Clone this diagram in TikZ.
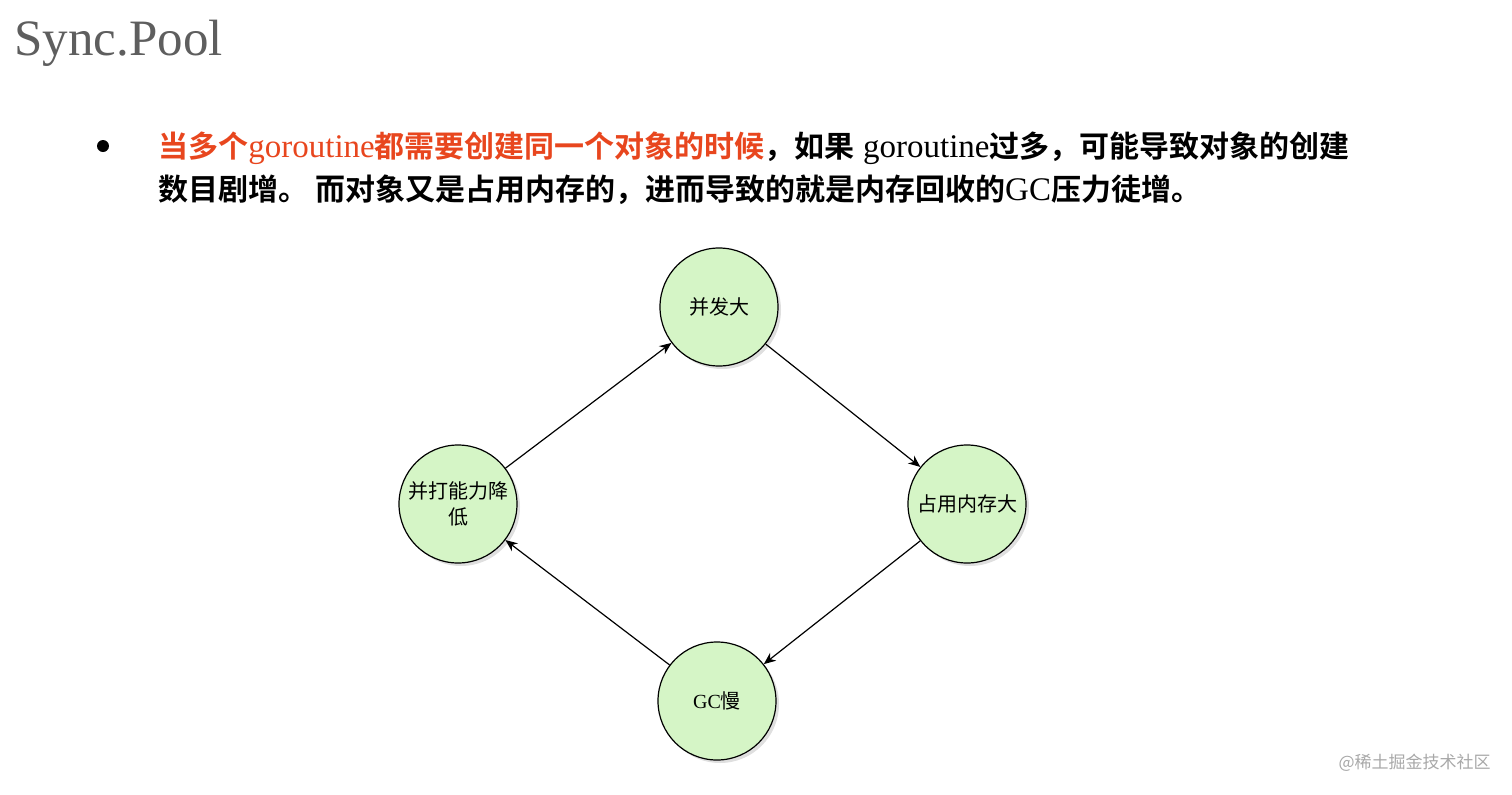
\documentclass[tikz,border=0pt]{standalone}
\usepackage{fontspec}
\setmainfont{Liberation Serif}
\newfontfamily\zhfont{Noto Sans CJK SC}[BoldFont={* Bold}]
\usetikzlibrary{arrows.meta,shadows}
\definecolor{warnred}{HTML}{E8461E}
\definecolor{titlegray}{HTML}{5E5E5E}
\definecolor{nodegreen}{HTML}{D5F5C6}
\definecolor{markgray}{HTML}{A8A8A8}
\newcommand\zh[1]{{\zhfont\bfseries\fontsize{15}{20}\selectfont #1}}
\tikzset{
  state/.style={circle, draw, line width=0.6pt, fill=nodegreen, minimum size=59pt,
    inner sep=0pt, align=center, font=\zhfont\fontsize{10}{13}\selectfont,
    drop shadow={opacity=0.25, shadow xshift=1.5pt, shadow yshift=-1.5pt}},
  textline/.style={anchor=base west, inner sep=0pt, font=\fontsize{16.5}{20}\selectfont}
}
\begin{document}
\begin{tikzpicture}[x=0.5pt,y=-0.5pt,>={Stealth[length=6pt,width=5pt]}]
  \useasboundingbox (0,0) rectangle (1512,794);
  \node[anchor=base west, inner sep=0pt, text=titlegray, font=\fontsize{25.5}{30}\selectfont]
    (title) at (14,55) {Sync.Pool};
  \node[circle, fill, minimum size=6pt, inner sep=0pt] (dot) at (103,146) {};
  \node[textline] (line1) at (158,157)
    {\textcolor{warnred}{\zh{当多个}goroutine\zh{都需要创建同一个对象的时候}}\zh{，如果} goroutine\zh{过多，可能导致对象的创建}};
  \node[textline] (line2) at (158,200)
    {\zh{数目剧增。 而对象又是占用内存的，进而导致的就是内存回收的}GC\zh{压力徒增。}};
  % the cycle
  \node[state] (conc) at (719,307) {并发大};
  \node[state] (mem) at (967,504) {占用内存大};
  \node[state] (gc) at (717,701) {{\rmfamily GC}慢};
  \node[state] (drop) at (458,504) {并打能力降\\低};
  \draw[->, line width=0.6pt] (drop) -- (conc);
  \draw[->, line width=0.6pt] (conc) -- (mem);
  \draw[->, line width=0.6pt] (mem) -- (gc);
  \draw[->, line width=0.6pt] (gc) -- (drop);
  \node[anchor=base east, inner sep=0pt, text=markgray, font=\zhfont\fontsize{8.5}{10}\selectfont]
    (mark) at (1491,768) {@稀土掘金技术社区};
\end{tikzpicture}
\end{document}
